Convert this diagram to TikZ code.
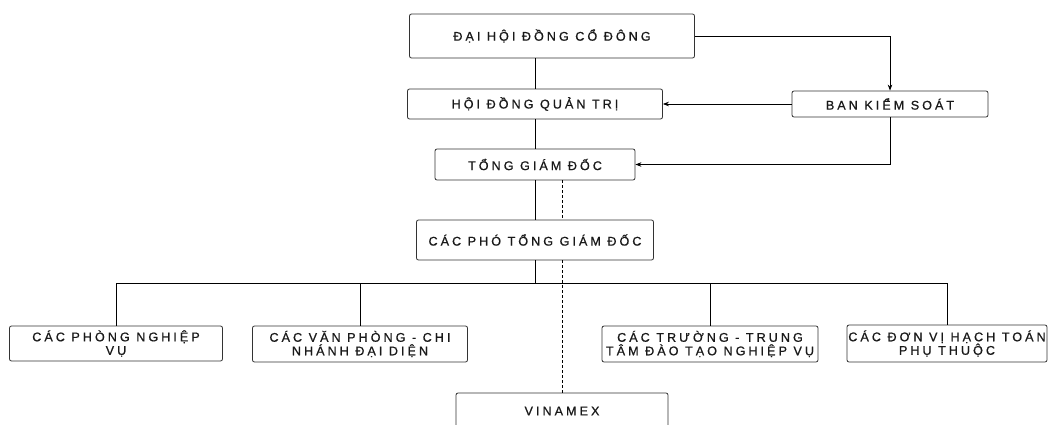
\documentclass[tikz,border=0pt]{standalone}
\usepackage{fontspec}
\setmainfont{Liberation Sans}[LetterSpace=24, FakeBold=0.8]
\usepackage{tikz}
\usetikzlibrary{arrows.meta}

\begin{document}
\begin{tikzpicture}[
    x=1pt, y=-1pt,
    every node/.style={draw=black!80, rounded corners=2pt, fill=white, align=center,
      inner sep=0pt, text=black!90, font=\fontsize{12.6}{13.5}\selectfont},
    line width=0.8pt
  ]
  \tikzset{
    khung/.style 2 args={minimum width=#1, minimum height=#2},
    mui/.style={-{Stealth[length=6pt,width=4.5pt]}},
    netdut/.style={dash pattern=on 3pt off 2pt}
  }
  \useasboundingbox (0,0) rectangle (1048,425);
  \clip (0,0) rectangle (1048,425);

  % cap tren
  \node[khung={285pt}{44pt}] (dhdcd) at (552,36) {ĐẠI HỘI ĐỒNG CỔ ĐÔNG};
  \node[khung={255pt}{30pt}] (hdqt) at (535,104) {HỘI ĐỒNG QUẢN TRỊ};
  \node[khung={196pt}{26pt}] (bks) at (890,104) {BAN KIỂM SOÁT};
  \node[khung={200pt}{31pt}] (tgd) at (535,164.5) {TỔNG GIÁM ĐỐC};
  \node[khung={237pt}{40pt}] (ptgd) at (535,240) {CÁC PHÓ TỔNG GIÁM ĐỐC};

  % cap duoi
  \node[khung={213pt}{35pt}] (phong) at (116,343.5) {CÁC PHÒNG NGHIỆP\\VỤ};
  \node[khung={215pt}{36pt}] (vanphong) at (360,344) {CÁC VĂN PHÒNG - CHI\\NHÁNH ĐẠI DIỆN};
  \node[khung={216pt}{36pt}] (truong) at (710,344) {CÁC TRƯỜNG - TRUNG\\TÂM ĐÀO TẠO NGHIỆP VỤ};
  \node[khung={200pt}{37pt}] (donvi) at (947,343.5) {CÁC ĐƠN VỊ HẠCH TOÁN\\PHỤ THUỘC};
  \node[khung={212pt}{36pt}] (vinamex) at (562,411) {VINAMEX};

  \coordinate (truc) at (535,283);

  % duong noi
  \draw (dhdcd.south -| hdqt) -- (hdqt);
  \draw (hdqt) -- (tgd);
  \draw (tgd) -- (ptgd);
  \draw (ptgd) -- (truc);
  \draw (phong.north) -- (phong.north |- truc) -- (donvi.north |- truc) -- (donvi.north);
  \draw (vanphong.north) -- (vanphong.north |- truc);
  \draw (truong.north) -- (truong.north |- truc);
  \draw[mui] (dhdcd.east) -| (bks.north);
  \draw[mui] (bks.west) -- (hdqt.east);
  \draw[mui] (bks.south) |- (tgd.east);
  \draw[netdut] (tgd.south -| vinamex.north) -- (ptgd.north -| vinamex.north);
  \draw[netdut] (ptgd.south -| vinamex.north) -- (vinamex.north);
\end{tikzpicture}
\end{document}
